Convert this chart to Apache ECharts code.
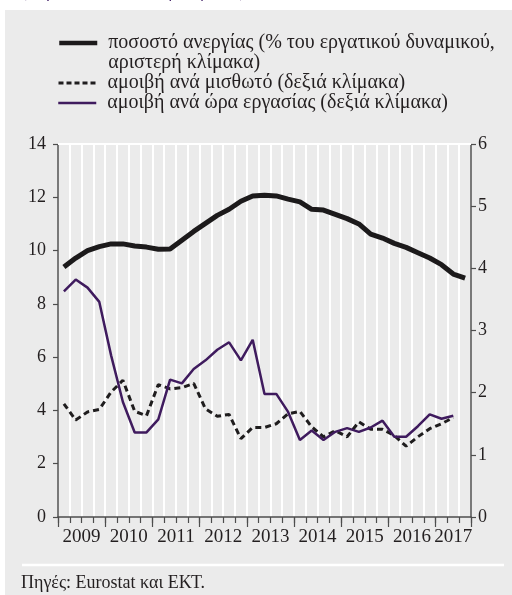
<!DOCTYPE html>
<html>
<head>
<meta charset="utf-8">
<script src="https://cdn.jsdelivr.net/npm/echarts@6/dist/echarts.min.js"></script>
<style>
  html, body { margin: 0; padding: 0; background: #ffffff; }
  #bg { position: absolute; left: 5px; top: 10px; width: 507px; height: 585px; background: #ebebeb; }
  #chart { position: absolute; left: 0; top: 0; width: 512px; height: 595px; }
</style>
</head>
<body>
<div id="bg"></div>
<div id="chart"></div>
<script>
// Quarterly categories
const quarters = [
  '2009Q1','2009Q2','2009Q3','2009Q4',
  '2010Q1','2010Q2','2010Q3','2010Q4',
  '2011Q1','2011Q2','2011Q3','2011Q4',
  '2012Q1','2012Q2','2012Q3','2012Q4',
  '2013Q1','2013Q2','2013Q3','2013Q4',
  '2014Q1','2014Q2','2014Q3','2014Q4',
  '2015Q1','2015Q2','2015Q3','2015Q4',
  '2016Q1','2016Q2','2016Q3','2016Q4',
  '2017Q1','2017Q2','2017Q3'
];
// Year labels on the axis
const yearLabels = ['2009','2010','2011','2012','2013','2014','2015','2016','2017'];
// Left axis ticks / right axis ticks
const leftTicks = [0, 2, 4, 6, 8, 10, 12, 14];
const rightTicks = [0, 1, 2, 3, 4, 5, 6];

// ποσοστό ανεργίας (left scale)
const unemployment = [9.38, 9.72, 10.0, 10.15, 10.25, 10.25, 10.17, 10.13, 10.05, 10.06,
  10.39, 10.72, 11.02, 11.32, 11.55, 11.85, 12.05, 12.08, 12.05, 11.93,
  11.83, 11.55, 11.52, 11.36, 11.2, 11.0, 10.62, 10.47, 10.27, 10.12,
  9.92, 9.72, 9.47, 9.12, 8.97];
// αμοιβή ανά μισθωτό (right scale)
const compPerEmployee = [1.82, 1.56, 1.69, 1.73, 2.01, 2.2, 1.7, 1.63, 2.13, 2.06,
  2.08, 2.15, 1.74, 1.62, 1.65, 1.26, 1.44, 1.44, 1.5, 1.66,
  1.70, 1.45, 1.29, 1.39, 1.29, 1.53, 1.41, 1.41, 1.31, 1.14,
  1.29, 1.42, 1.5, 1.6];
// αμοιβή ανά ώρα εργασίας (right scale)
const compPerHour = [3.63, 3.82, 3.69, 3.46, 2.6, 1.85, 1.36, 1.36, 1.57, 2.21,
  2.15, 2.38, 2.52, 2.69, 2.81, 2.52, 2.85, 1.98, 1.98, 1.69,
  1.24, 1.39, 1.24, 1.37, 1.43, 1.37, 1.44, 1.55, 1.29, 1.29,
  1.46, 1.65, 1.58, 1.63];

const names = [
  'ποσοστό ανεργίας (% του εργατικού δυναμικού,\nαριστερή κλίμακα)',
  'αμοιβή ανά μισθωτό (δεξιά κλίμακα)',
  'αμοιβή ανά ώρα εργασίας (δεξιά κλίμακα)'
];

// quarter label -> position on the time axis (middle of the quarter)
function qPos(q) {
  const y = parseInt(q.slice(0, 4), 10);
  const n = parseInt(q.slice(5), 10);
  return y + (n - 0.5) / 4;
}
function pairs(values) {
  return values.map((v, i) => [qPos(quarters[i]), v]);
}

const xMin = qPos(quarters[0]) - 0.125;
const xMax = qPos(quarters[quarters.length - 1]) + 0.125;
const lastYear = parseInt(yearLabels[yearLabels.length - 1], 10);
const lastYearCenter = (lastYear + xMax) / 2;

const FONT = 'Liberation Serif';
const TXT = '#231f20';
const AX = '#4d4d4d';
const C_UNEMP = '#1c1a1b';
const C_EMP = '#1f1d1e';
const C_HOUR = '#3f1b5e';

const chart = echarts.init(document.getElementById('chart'), null, { renderer: 'canvas' });

const legendCommon = {
  orient: 'vertical',
  left: 57,
  padding: 0,
  itemWidth: 38,
  itemHeight: 14,
  itemGap: 0,
  selectedMode: false,
  itemStyle: { opacity: 0 },
  textStyle: { fontFamily: FONT, fontSize: 20, color: TXT, lineHeight: 20, padding: [0, 0, 0, 6] }
};

const option = {
  animation: false,
  title: [
    {
      text: '(ετήσιες ποσοστιαίες μεταβολές)',
      left: 21, top: -16, padding: 0,
      textStyle: { fontFamily: FONT, fontSize: 17, fontWeight: 'normal', color: '#4a2a6e' }
    },
    {
      text: 'Πηγές: Eurostat και ΕΚΤ.',
      left: 21, top: 574, padding: 0,
      textStyle: { fontFamily: FONT, fontSize: 18, fontWeight: 'normal', color: TXT }
    }
  ],
  graphic: [
    {
      type: 'line',
      shape: { x1: 22, y1: 565, x2: 504, y2: 565 },
      style: { stroke: '#ffffff', lineWidth: 2.5 }
    }
  ],
  legend: [
    Object.assign({}, legendCommon, {
      top: 13,
      data: [names[0]],
      lineStyle: { color: C_UNEMP, width: 4.5 },
      formatter: function (name) { return ' \n' + name; }
    }),
    Object.assign({}, legendCommon, {
      top: 73, data: [names[1]],
      lineStyle: { color: C_EMP, width: 3, type: [5, 3] }
    }),
    Object.assign({}, legendCommon, {
      top: 93, data: [names[2]],
      lineStyle: { color: C_HOUR, width: 2.5 }
    })
  ],
  grid: { left: 58, top: 144, width: 413, height: 373, containLabel: false },
  xAxis: [
    {
      type: 'value', min: xMin, max: xMax, interval: 0.25, position: 'bottom',
      axisLine: { show: true, lineStyle: { color: AX, width: 1.5 } },
      axisTick: { show: true, length: 6, lineStyle: { color: AX, width: 1.2 } },
      axisLabel: { show: false },
      splitLine: { show: true, lineStyle: { color: '#ffffff', width: 2 } }
    },
    {
      type: 'value', min: xMin, max: xMax, interval: 1, position: 'bottom',
      axisLine: { show: false },
      axisTick: { show: true, length: 10, lineStyle: { color: AX, width: 1.2 } },
      axisLabel: { show: false },
      splitLine: { show: false }
    },
    {
      type: 'value', min: xMin, max: xMax, interval: 0.125, position: 'bottom',
      axisLine: { show: false },
      axisTick: { show: false },
      splitLine: { show: false },
      axisLabel: {
        show: true, margin: 11, fontFamily: FONT, fontSize: 19, color: TXT,
        showMinLabel: true, showMaxLabel: true,
        formatter: function (v) {
          const y = Math.floor(v);
          const label = String(y);
          if (yearLabels.indexOf(label) < 0) return '';
          if (y === lastYear) return Math.abs(v - lastYearCenter) < 1e-6 ? label : '';
          return Math.abs(v - (y + 0.5)) < 1e-6 ? label : '';
        }
      }
    },
    {
      type: 'value', min: xMin, max: xMax, position: 'top',
      axisLine: { show: true, lineStyle: { color: '#ffffff', width: 2 } },
      axisTick: { show: false }, axisLabel: { show: false }, splitLine: { show: false }
    }
  ],
  yAxis: [
    {
      type: 'value', min: leftTicks[0], max: leftTicks[leftTicks.length - 1], interval: leftTicks[1] - leftTicks[0],
      position: 'left',
      axisLine: { show: true, lineStyle: { color: AX, width: 1.5 } },
      axisTick: { show: true, length: 5, lineStyle: { color: AX, width: 1.2 } },
      axisLabel: { margin: 12, fontFamily: FONT, fontSize: 18, color: TXT },
      splitLine: { show: false }
    },
    {
      type: 'value', min: rightTicks[0], max: rightTicks[rightTicks.length - 1], interval: rightTicks[1] - rightTicks[0],
      position: 'right',
      axisLine: { show: true, lineStyle: { color: AX, width: 1.5 } },
      axisTick: { show: true, length: 5, lineStyle: { color: AX, width: 1.2 } },
      axisLabel: { margin: 7, fontFamily: FONT, fontSize: 18, color: TXT },
      splitLine: { show: false }
    }
  ],
  series: [
    {
      name: names[1], type: 'line', xAxisIndex: 0, yAxisIndex: 1,
      data: pairs(compPerEmployee), symbol: 'none', z: 3,
      lineStyle: { color: C_EMP, width: 3, type: [6, 4] },
      itemStyle: { color: C_EMP }
    },
    {
      name: names[2], type: 'line', xAxisIndex: 0, yAxisIndex: 1,
      data: pairs(compPerHour), symbol: 'none', z: 4,
      lineStyle: { color: C_HOUR, width: 2.5 },
      itemStyle: { color: C_HOUR }
    },
    {
      name: names[0], type: 'line', xAxisIndex: 0, yAxisIndex: 0,
      data: pairs(unemployment), symbol: 'none', z: 5,
      lineStyle: { color: C_UNEMP, width: 5 },
      itemStyle: { color: C_UNEMP }
    }
  ]
};
chart.setOption(option);
</script>
</body>
</html>
